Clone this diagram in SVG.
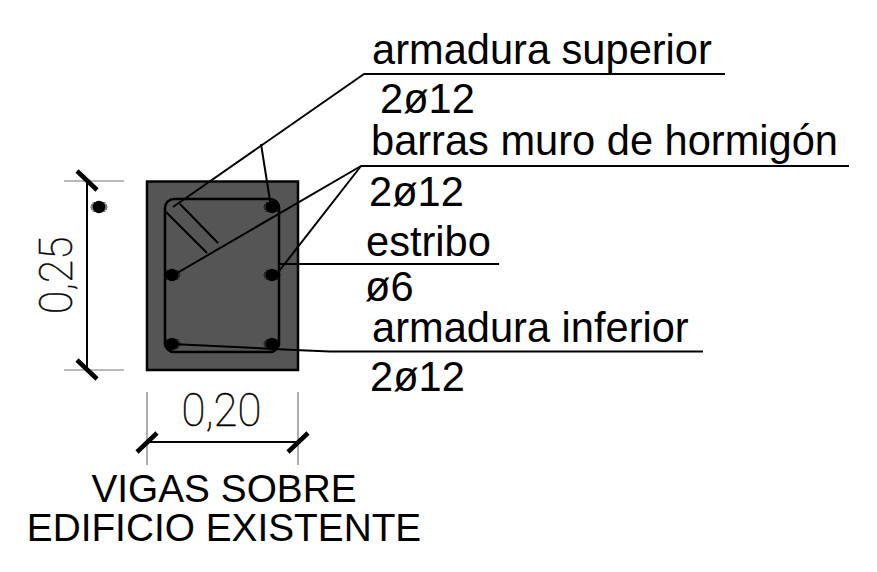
<svg xmlns="http://www.w3.org/2000/svg" width="877" height="572" viewBox="0 0 877 572">
<style>
.t{font-family:"Liberation Sans",Arial,sans-serif;font-size:41.600px;fill:#000}
.c{font-family:"Liberation Sans",Arial,sans-serif;font-size:38.800px;fill:#000;text-anchor:middle}
.d{font-family:"Roboto","Liberation Sans",sans-serif;font-weight:100;font-size:47px;fill:#000;stroke:#000;stroke-width:.5}
.l{stroke:#000;stroke-width:2;fill:none;stroke-linejoin:round}
.e{stroke:#777;stroke-width:1.2;fill:none}
.k{stroke:#000;stroke-width:4.500;fill:none}
</style>
<defs>
<g id="bar"><circle r="6.200" fill="#000"/><path d="M-6.500-4H6.500M-8-2H8M-8.500 0H8.500M-8 2H8M-6.500 4H6.500" stroke="#000" stroke-width="1"/></g>
</defs>
<g id="viga">
<rect x="147" y="181.500" width="151" height="188.500" fill="#555" stroke="#000" stroke-width="2.500"/>
<rect x="165" y="199" width="114" height="153" rx="9" fill="none" stroke="#000" stroke-width="2.500"/>
<path class="l" d="M166 212L207 253M180 204L218 243"/>
<use href="#bar" x="272" y="207"/><use href="#bar" x="172" y="275"/><use href="#bar" x="272" y="275"/><use href="#bar" x="172" y="344"/><use href="#bar" x="272" y="344"/>
</g>
<g id="punto"><use href="#bar" x="99" y="207"/></g>
<g id="connectors">
<path class="l" d="M173 207L364 74H725"/>
<path class="l" d="M261 144L271 207"/>
<path class="l" d="M172 276L361 166H849"/>
<path class="l" d="M361 166L276 275"/>
<path class="l" d="M280 264H499"/>
<path class="l" d="M172 344L295 350L330 351.500H703"/>
</g>
<g id="cota-vertical">
<path class="e" d="M64 181H124M64 370H124"/>
<path class="l" d="M87 181V370"/>
<path class="k" d="M77 171L97 190M77 360L97 379"/>
<text class="d" transform="translate(72 314) rotate(-90) scale(.9 1)">0,25</text>
</g>
<g id="cota-horizontal">
<path class="e" d="M147 392V465M298 392V465"/>
<path class="l" d="M147 442H298"/>
<path class="k" d="M137 452L157 433M288 452L308 433"/>
<text class="d" transform="translate(181.500 426) scale(.93 1)">0,20</text>
</g>
<g id="etiquetas">
<text class="t" x="372" y="64">armadura superior</text>
<text class="t" x="380" y="113">2ø12</text>
<text class="t" x="371" y="155">barras muro de hormigón</text>
<text class="t" x="369" y="206">2ø12</text>
<text class="t" x="366" y="256">estribo</text>
<text class="t" x="365" y="301">ø6</text>
<text class="t" x="372" y="342">armadura inferior</text>
<text class="t" x="370" y="391">2ø12</text>
<text class="c" x="224" y="502">VIGAS SOBRE</text>
<text class="c" x="224" y="541">EDIFICIO EXISTENTE</text>
</g>
</svg>
